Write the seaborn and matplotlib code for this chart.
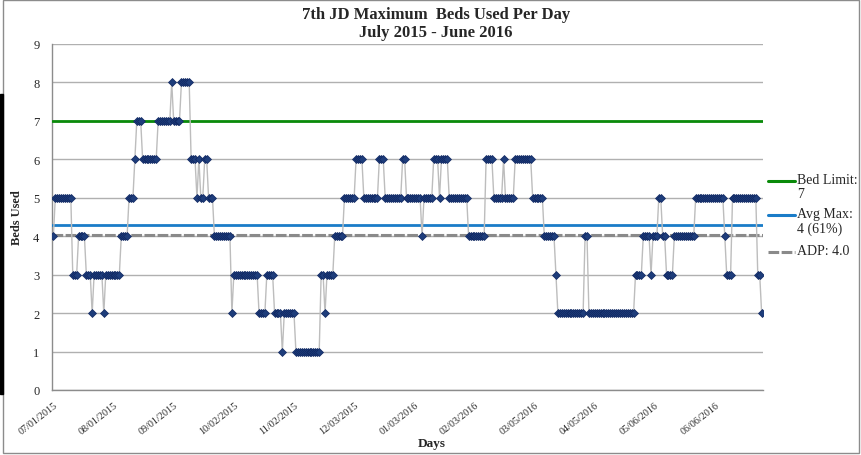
import numpy as np
import pandas as pd
import matplotlib
matplotlib.use("Agg")
import matplotlib.pyplot as plt
import seaborn as sns
from matplotlib.lines import Line2D
from matplotlib.patches import Rectangle

# Daily maximum beds used, 07/01/2015 - 06/30/2016, stored as runs of equal days
run_values = [4, 5, 3, 4, 3, 2, 3, 2, 3, 4, 5, 6, 7, 6, 7, 8, 7, 8, 6, 5,
              6, 5, 6, 5, 4, 2, 3, 2, 3, 2, 1, 2, 1, 3, 2, 3, 4, 5, 6, 5,
              6, 5, 6, 5, 4, 5, 6, 5, 6, 5, 4, 6, 5, 6, 5, 6, 5, 4, 3, 2,
              4, 2, 3, 4, 3, 4, 5, 4, 3, 4, 5, 4, 3, 5, 3, 2]
run_lengths = [1, 9, 3, 4, 3, 1, 5, 1, 8, 4, 3, 1, 3, 8, 7, 1, 4, 5, 3, 1,
               1, 2, 2, 3, 9, 1, 13, 4, 4, 4, 1, 6, 13, 2, 1, 4, 5, 6, 4, 8,
               3, 9, 2, 8, 1, 5, 3, 1, 4, 10, 9, 4, 5, 1, 5, 9, 6, 6, 1, 14,
               2, 24, 4, 4, 1, 3, 2, 2, 4, 11, 15, 1, 3, 13, 2, 1]

bed_limit = 7
avg_max = 4.28
adp = 4.04

start_date = "2015-07-01"
tick_step_days = 31

beds = np.repeat(run_values, run_lengths)
dates = pd.date_range(start_date, periods=len(beds), freq="D")
df = pd.DataFrame({"day": np.arange(len(beds)), "beds": beds})

sns.set_theme(style="white")
plt.rcParams["font.family"] = ["Liberation Serif", "DejaVu Serif"]

W, H = 862, 456
fig = plt.figure(figsize=(W / 100, H / 100), dpi=100)
fig.patch.set_facecolor("white")

def fx(px):
    return px / W

def fy(py):
    return 1 - py / H

ax = fig.add_axes([fx(52), fy(391), fx(763 - 52), (391 - 45) / H])
ax.set_facecolor("white")

green = "#0a8a0a"
blue = "#1a7cc8"
grey = "#8a8a8a"

ax.axhline(bed_limit, color=green, lw=2.0, zorder=3)
ax.axhline(avg_max, color=blue, lw=2.0, zorder=3)
ax.axhline(adp, color=grey, lw=2.2, ls=(0, (3.5, 0.8)), zorder=3)

sns.lineplot(data=df, x="day", y="beds", ax=ax, color="#bdbdbd", lw=1.0,
             marker="D", markersize=4.2, markerfacecolor="#1e3d7b",
             markeredgecolor="#0f2660", markeredgewidth=0.5, zorder=5)

ax.set_xlim(-0.7, len(beds) - 0.3)
ax.set_ylim(0, 9)
ax.set_yticks(range(0, 10))
ax.yaxis.grid(True, color="#b0b0b0", lw=1.0)
ax.set_axisbelow(True)
for side in ["top", "right"]:
    ax.spines[side].set_visible(False)
for side in ["left", "bottom"]:
    ax.spines[side].set_color("#8c8c8c")
    ax.spines[side].set_linewidth(1.0)

tick_pos = np.arange(0, len(beds), tick_step_days)
tick_labels = [d.strftime("%m/%d/%Y") for d in dates[tick_pos]]
ax.set_xticks(tick_pos)
ax.set_xticklabels(tick_labels, rotation=38, ha="right", va="top",
                   rotation_mode="anchor", fontsize=7.3)
ax.tick_params(axis="x", length=0, pad=7)
ax.tick_params(axis="y", length=0, pad=9, labelsize=9)
ax.set_xlabel("")
ax.set_ylabel("")

fig.text(fx(436), fy(24), "7th JD Maximum  Beds Used Per Day\nJuly 2015 - June 2016",
         ha="center", va="center", fontsize=12, fontweight="bold", linespacing=1.15)
fig.text(fx(432), fy(444), "Days", ha="center", va="center",
         fontsize=9.5, fontweight="bold")
fig.text(fx(17), fy(218), "Beds Used", ha="center", va="center", rotation=90,
         fontsize=9, fontweight="bold")

# Side legend
entries = [
    (182, green, "-", f"Bed Limit:\n{bed_limit}"),
    (216, blue, "-", f"Avg Max:\n{avg_max:.0f} ({avg_max / bed_limit:.0%})"),
    (253, grey, (0, (3.5, 0.8)), f"ADP: {adp:.1f}"),
]
for y, col, ls, label in entries:
    fig.add_artist(Line2D([fx(768), fx(795)], [fy(y), fy(y)], color=col,
                          lw=2.2, ls=ls, transform=fig.transFigure))
    fig.text(fx(797), fy(y - 8), label, ha="left", va="top", fontsize=10,
             linespacing=1.1)

# Chart frame
fig.add_artist(Rectangle((fx(3), fy(454)), fx(859 - 3), (454 - 1) / H,
                         fill=False, edgecolor="#8c8c8c", lw=1.0,
                         transform=fig.transFigure))
fig.add_artist(Rectangle((0, fy(395)), fx(3), 300 / H, color="black",
                         transform=fig.transFigure))

fig.savefig("out.png", dpi=100, facecolor="white")
